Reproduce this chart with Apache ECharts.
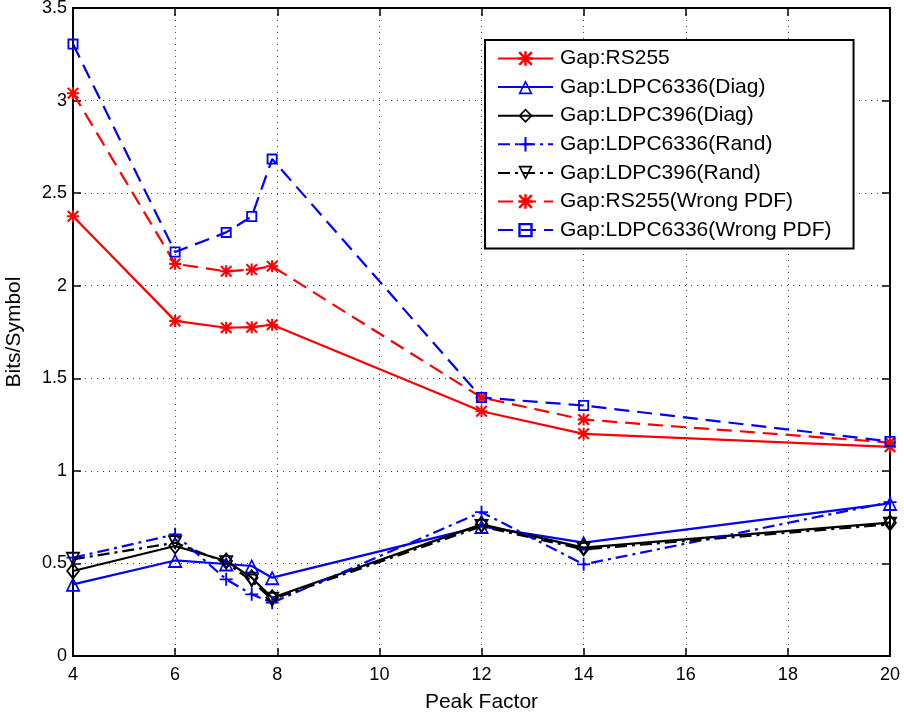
<!DOCTYPE html>
<html>
<head>
<meta charset="utf-8">
<script src="https://cdn.jsdelivr.net/npm/echarts@6/dist/echarts.min.js"></script>
<style>html,body{margin:0;padding:0;background:#fff}#c{width:904px;height:713px}</style>
</head>
<body>
<div id="c"></div>
<script>
const peakFactor = [4, 6, 7, 7.5, 7.9, 12, 14, 20];
const rs255 = [2.375, 1.81, 1.773, 1.776, 1.789, 1.322, 1.2, 1.13];
const ldpc6336Diag = [0.387, 0.516, 0.497, 0.486, 0.423, 0.70, 0.612, 0.824];
const ldpc396Diag = [0.459, 0.594, 0.513, 0.423, 0.315, 0.711, 0.585, 0.72];
const ldpc6336Rand = [0.531, 0.657, 0.414, 0.333, 0.288, 0.777, 0.495, 0.831];
const ldpc396Rand = [0.522, 0.612, 0.504, 0.405, 0.306, 0.70, 0.576, 0.711];
const rs255Wrong = [3.04, 2.118, 2.078, 2.087, 2.105, 1.396, 1.277, 1.153];
const ldpc6336Wrong = [3.305, 2.182, 2.288, 2.374, 2.684, 1.396, 1.353, 1.159];
const seriesNames = ['Gap:RS255','Gap:LDPC6336(Diag)','Gap:LDPC396(Diag)','Gap:LDPC6336(Rand)','Gap:LDPC396(Rand)','Gap:RS255(Wrong PDF)','Gap:LDPC6336(Wrong PDF)'];

const ASTER = 'path://M5.8,0H8.2V14H5.8Z M0,5.8H14V8.2H0Z M1.7,0L14,12.3L12.3,14L0,1.7Z M12.3,0L14,1.7L1.7,14L0,12.3Z';
const TRI = 'path://M7,0L14,12L0,12Z M7,2.98L2.61,10.5L11.39,10.5Z';
const DIAM = 'path://M6,0L12,8L6,16L0,8Z M6,2.6L1.95,8L6,13.4L10.05,8Z';
const PLUS = 'path://M6,0H8V6H14V8H8V14H6V8H0V6H6Z';
const SQR = 'path://M0,0H12V12H0Z M2,2V10H10V2Z';

function pts(ys){ return peakFactor.map((x,i)=>[x, ys[i]]); }
function mk(name, ys, color, type, symbol, size, rot){
  return {
    name, type:'line', data: pts(ys), symbol, symbolSize: size, symbolRotate: rot||0,
    lineStyle:{color, width:2.2, type},
    itemStyle:{color, borderWidth:0},
    color, animation:false, z:2
  };
}
const chart = echarts.init(document.getElementById('c'), null, {renderer:'canvas'});
const FF = 'Liberation Sans, Arial, Helvetica, sans-serif';
const tickFont = {fontFamily:FF, fontSize:18, color:'#000'};
const gridLine = {show:true, lineStyle:{color:'#444', width:1, type:[1,5]}};
chart.setOption({
  animation:false,
  backgroundColor:'#fff',
  grid:{left:73, right:14, top:8, bottom:57, show:false, containLabel:false, outerBoundsMode:'none'},
  xAxis:[{
    type:'value', min:4, max:20, interval:2, position:'bottom',
    name:'Peak Factor', nameLocation:'middle', nameGap:36,
    nameTextStyle:{fontFamily:FF, fontSize:21, color:'#000'},
    axisLine:{show:true, onZero:false, lineStyle:{color:'#000', width:2}},
    axisTick:{show:true, inside:true, length:8, lineStyle:{color:'#000', width:1.5}},
    axisLabel:{...tickFont, margin:10},
    splitLine:gridLine
  },{
    type:'value', min:4, max:20, interval:2, position:'top',
    axisLine:{show:true, onZero:false, lineStyle:{color:'#000', width:2}},
    axisTick:{show:true, inside:true, length:8, lineStyle:{color:'#000', width:1.5}},
    axisLabel:{show:false}, splitLine:{show:false}
  }],
  yAxis:[{
    type:'value', min:0, max:3.5, interval:0.5, position:'left',
    name:'Bits/Symbol', nameLocation:'middle', nameGap:48, nameRotate:90,
    nameTextStyle:{fontFamily:FF, fontSize:21, color:'#000'},
    axisLine:{show:true, onZero:false, lineStyle:{color:'#000', width:2}},
    axisTick:{show:true, inside:true, length:8, lineStyle:{color:'#000', width:1.5}},
    axisLabel:{...tickFont, margin:6},
    splitLine:gridLine
  },{
    type:'value', min:0, max:3.5, interval:0.5, position:'right',
    axisLine:{show:true, onZero:false, lineStyle:{color:'#000', width:2}},
    axisTick:{show:true, inside:true, length:8, lineStyle:{color:'#000', width:1.5}},
    axisLabel:{show:false}, splitLine:{show:false}
  }],
  legend:{
    orient:'vertical', left:485, top:40,
    data: seriesNames,
    backgroundColor:'#fff', borderColor:'#000', borderWidth:2,
    padding:[8,22,8,12], itemWidth:55, itemHeight:18, itemGap:7.6,
    textStyle:{fontFamily:FF, fontSize:21, lineHeight:21, color:'#000', padding:[0,0,0,2]},
    selectedMode:false
  },
  series:[
    mk(seriesNames[0], rs255, '#ff0000', 'solid', ASTER, 12),
    mk(seriesNames[1], ldpc6336Diag, '#0000ff', 'solid', TRI, 15),
    mk(seriesNames[2], ldpc396Diag, '#000000', 'solid', DIAM, [14,18]),
    mk(seriesNames[3], ldpc6336Rand, '#0000ff', [12,5,3,5], PLUS, 13),
    mk(seriesNames[4], ldpc396Rand, '#000000', [12,5,3,5], TRI, 15, 180),
    mk(seriesNames[5], rs255Wrong, '#ff0000', [15,8], ASTER, 12),
    mk(seriesNames[6], ldpc6336Wrong, '#0000ff', [15,8], SQR, 11)
  ]
});
</script>
</body>
</html>
